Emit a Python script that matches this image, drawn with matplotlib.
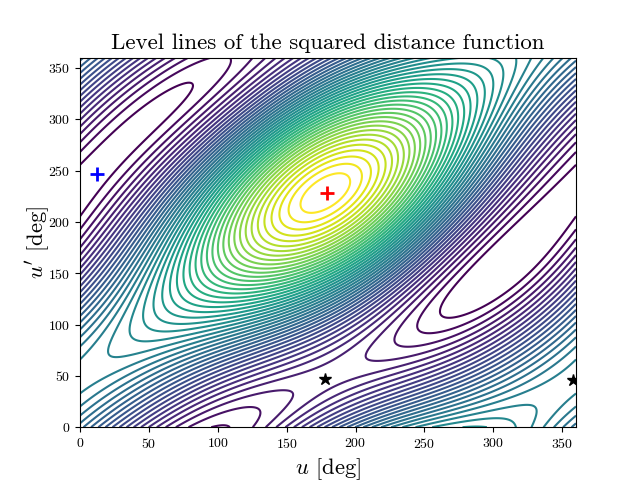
import numpy as np
import matplotlib
matplotlib.use("Agg")
import matplotlib.pyplot as plt

plt.rcParams['font.family'] = ['cmr10', 'DejaVu Sans']
plt.rcParams['mathtext.fontset'] = 'cm'
plt.rcParams['axes.formatter.use_mathtext'] = True
plt.rcParams['axes.unicode_minus'] = False

N_LEVELS = 46      # number of level lines
K_SADDLE = 20      # last level line below the saddle at the right-hand star

# Level lines: u [deg], u' [deg], level number
low_u = [275, 82, 0, 0, 48.6, 72.6, 24, 48.6, 72.6, 305.6, 347, 301, 325, 287,
         251, 105.7, 0, 298, 0, 276.5, 301,
         231, 125.6, 252.6, 262,
         207, 149, 229, 276.5, 240]
low_v = [123, 333, 202, 260, 269, 308, 290, 318, 335.6, 188.5, 188.5, 124, 147, 143,
         99.5, 355, 272, 188.5, 191, 160, 111,
         82, 10.7, 77, 140,
         65, 26, 64, 82, 113]
low_k = [1]*14 + [2]*7 + [3]*4 + [4]*5
# counted down from the top level
top_u = [194, 165.5, 206, 152, 215.5, 143, 223]
top_v = [244, 212, 248, 211, 255.6, 201, 262.5]
top_k = [0, 0, 1, 1, 2, 2, 3]
# counted along u' = 229
mid_u = [36, 72.6, 109]
mid_v = [229, 229, 229]
mid_k = [6, 18, 31]
# relative to K_SADDLE
rel_u = [0, 0, 0, 0, 0, 0, 331, 310, 240, 298, 24, 37.7, 47, 310.6, 276.5, 303,
         58, 85, 30, 51, 85, 36, 325,
         265, 240, 296, 296, 295, 284, 289, 283, 276.5]
rel_v = [58.5, 43, 82, 96.6, 19.5, 7, 0, 20.5, 0, 9.6, 86, 98.5, 109, 337.6, 357, 328,
         75, 84, 101, 92, 98.5, 59.5, 33,
         352, 347, 357, 350, 321, 340, 314, 308, 301.5]
rel_k = [0, 0, -1, -2, -1, -2, 1, 1, 1, 2, 1, 2, 3, 3, 3, 4,
         1, 1, 1, 2, 2, 0, 0,
         4, 4, 3, 4, 5, 5, 6, 7, 8]

# Stationary points marked in the picture
max_pt = (179, 228)
min_pt = (12, 247)
saddle_u = [178, 358]
saddle_v = [47, 46]
saddle_k = [4.5, K_SADDLE + 0.5]
max_level = N_LEVELS + 0.6
min_level = 0.3


def basis(u, v):
    u, v = np.radians(u), np.radians(v)
    return np.stack([np.ones_like(u), np.cos(u), np.sin(u), np.cos(2*u), np.sin(2*u),
                     np.cos(v), np.sin(v), np.cos(2*v), np.sin(2*v),
                     np.cos(u)*np.cos(v), np.cos(u)*np.sin(v),
                     np.sin(u)*np.cos(v), np.sin(u)*np.sin(v)], axis=-1)


def dbasis(u, v):
    h = 0.01
    return ((basis(u + h, v) - basis(u - h, v)) / (2*h),
            (basis(u, v + h) - basis(u, v - h)) / (2*h))


pu = np.array(low_u + top_u + mid_u + rel_u, float)
pv = np.array(low_v + top_v + mid_v + rel_v, float)
pk = np.array(low_k + [N_LEVELS - k for k in top_k] + mid_k + [K_SADDLE + k for k in rel_k], float)
rows = [basis(pu, pv)]
rhs = [pk]
cu = np.array([max_pt[0], min_pt[0]] + saddle_u, float)
cv = np.array([max_pt[1], min_pt[1]] + saddle_v, float)
gu, gv = dbasis(cu, cv)
W = 40.0
rows += [W*gu, W*gv]
rhs += [np.zeros(4), np.zeros(4)]
rows.append(3*basis(np.array(saddle_u, float), np.array(saddle_v, float)))
rhs.append(3*np.array(saddle_k))
rows.append(3*basis(np.array([float(max_pt[0]), float(min_pt[0])]),
                    np.array([float(max_pt[1]), float(min_pt[1])])))
rhs.append(np.array([3*max_level, 3*min_level]))
coef = np.linalg.lstsq(np.vstack(rows), np.concatenate(rhs), rcond=None)[0]

ug = np.linspace(0, 360, 721)
U, V = np.meshgrid(ug, ug)
D = basis(U, V) @ coef

fig, ax = plt.subplots(figsize=(6.4, 4.8), dpi=100)
levels = np.arange(1, N_LEVELS + 1)
ax.contour(U, V, D, levels=levels, cmap='viridis', linewidths=1.5)
ax.plot(*max_pt, '+', color='red', ms=10, mew=2)
ax.plot(*min_pt, '+', color='blue', ms=10, mew=2)
ax.plot(saddle_u, saddle_v, '*', color='black', ms=9, ls='none')
ax.set_xlim(0, 360)
ax.set_ylim(0, 360)
ax.set_xticks(np.arange(0, 351, 50))
ax.set_yticks(np.arange(0, 351, 50))
ax.set_title('Level lines of the squared distance function', fontsize=16.5)
ax.set_xlabel(r"$u$ [deg]", fontsize=16.3, labelpad=4)
ax.set_ylabel(r"$u'$ [deg]", fontsize=16.3, labelpad=-3)
fig.savefig('out.png', dpi=100)
